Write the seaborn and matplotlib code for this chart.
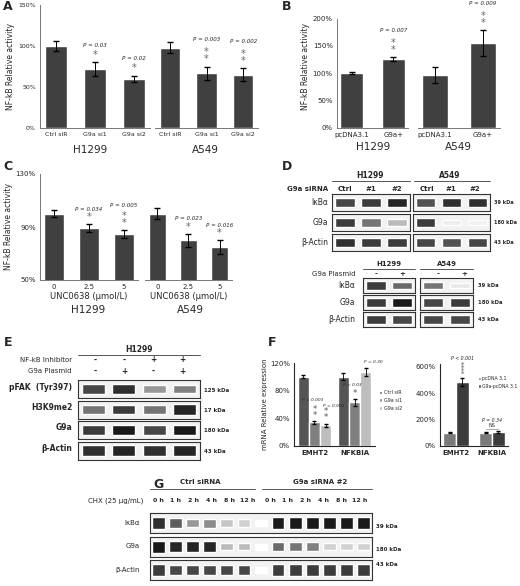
import numpy as np
import matplotlib
matplotlib.use("Agg")
import matplotlib.pyplot as plt
import seaborn as sns
from matplotlib.ticker import FuncFormatter

sns.set_style("white")
plt.rcParams['font.family'] = ['DejaVu Sans']

W, H = 520, 586
BAR = "#404040"

# -- panel data
a_cats = ["Ctrl siR", "G9a si1", "G9a si2"]
a_h1299 = [100, 72, 60]; a_h1299_err = [6, 8, 4]
a_a549 = [98, 67, 65]; a_a549_err = [7, 8, 8]
a_h1299_p = ["", "P = 0.03", "P = 0.02"]; a_h1299_star = ["", "*", "*"]
a_a549_p = ["", "P = 0.003", "P = 0.002"]; a_a549_star = ["", "**", "**"]

b_cats = ["pcDNA3.1", "G9a+"]
b_h1299 = [100, 126]; b_h1299_err = [2, 3]
b_a549 = [97, 155]; b_a549_err = [14, 24]
b_h1299_p = ["", "P = 0.007"]; b_a549_p = ["", "P = 0.009"]
b_star = ["", "**"]

c_cats = ["0", "2.5", "5"]
c_h1299 = [100, 89, 85]; c_h1299_err = [2.5, 3, 3]
c_a549 = [100, 80, 75]; c_a549_err = [4, 5, 5]
c_h1299_p = ["", "P = 0.034", "P = 0.005"]; c_h1299_star = ["", "*", "**"]
c_a549_p = ["", "P = 0.023", "P = 0.016"]; c_a549_star = ["", "*", "*"]

f_genes = ["EMHT2", "NFKBIA"]
f_groups = ["Ctrl siR", "G9a si1", "G9a si2"]
f_vals = [[100, 34, 30], [100, 63, 107]]
f_errs = [[2, 2, 2], [5, 5, 6]]
f_p = [["", "P = 0.003", "P = 0.002"], ["", "P = 0.03", "P = 0.30"]]
f_star = [["", "**", "**"], ["", "*", ""]]
f2_groups = ["pcDNA 3.1", "G9a-pcDNA 3.1"]
f2_vals = [[100, 485], [100, 105]]
f2_errs = [[5, 30], [4, 5]]

# -- blot band intensities (0..1)
d_lanes = ["Ctrl", "#1", "#2"]
d_h1299 = {"IκBα": [0.8, 0.85, 0.95], "G9a": [0.85, 0.6, 0.3], "β-Actin": [0.9, 0.85, 0.85]}
d_a549 = {"IκBα": [0.75, 0.9, 0.9], "G9a": [0.85, 0.08, 0.06], "β-Actin": [0.8, 0.75, 0.8]}
d_kda = ["39 kDa", "180 kDa", "43 kDa"]
d2_h1299 = {"IκBα": [0.85, 0.65], "G9a": [0.85, 1.0], "β-Actin": [0.85, 0.8]}
d2_a549 = {"IκBα": [0.6, 0.1], "G9a": [0.8, 0.85], "β-Actin": [0.8, 0.8]}

e_inhib = ["-", "-", "+", "+"]
e_plasmid = ["-", "+", "-", "+"]
e_rows = {"pFAK  (Tyr397)": [0.8, 0.9, 0.45, 0.55], "H3K9me2": [0.6, 0.85, 0.6, 0.95],
          "G9a": [0.85, 1.0, 0.8, 1.0], "β-Actin": [0.9, 0.95, 0.9, 0.95]}
e_kda = ["125 kDa", "17 kDa", "180 kDa", "43 kDa"]

g_times = ["0 h", "1 h", "2 h", "4 h", "8 h", "12 h"]
g_ctrl = {"IκBα": [0.9, 0.7, 0.45, 0.5, 0.25, 0.2], "G9a": [1.0, 0.95, 0.95, 0.95, 0.3, 0.3],
          "β-Actin": [0.85, 0.8, 0.8, 0.8, 0.8, 0.8]}
g_si = {"IκBα": [1.0, 1.0, 1.0, 1.0, 1.0, 1.0], "G9a": [0.65, 0.6, 0.55, 0.2, 0.2, 0.2],
        "β-Actin": [0.85, 0.85, 0.85, 0.85, 0.85, 0.85]}
g_kda = ["39 kDa", "180 kDa", "43 kDa"]

fig = plt.figure(figsize=(W / 100, H / 100), dpi=100)


def px(x0, y0, x1, y1):
    return fig.add_axes([x0 / W, 1 - y1 / H, (x1 - x0) / W, (y1 - y0) / H])


def T(x, y, s, size=6, **kw):
    kw.setdefault("ha", "center")
    kw.setdefault("va", "center")
    fig.text(x / W, 1 - y / H, s, fontsize=size, **kw)


pct = FuncFormatter(lambda v, _: f"{v:.0f}%")


def bars(ax, cats, vals, errs, ylim, ticks, pvals=None, stars=None, show_y=True, fs=4.5):
    sns.barplot(x=cats, y=vals, color=BAR, width=0.55, ax=ax, saturation=1)
    ax.errorbar(range(len(vals)), vals, yerr=errs, fmt="none", ecolor="black", elinewidth=0.7, capsize=2)
    ax.set_ylim(*ylim)
    ax.set_yticks(ticks)
    ax.yaxis.set_major_formatter(pct)
    ax.tick_params(axis="both", labelsize=fs, length=2, pad=1)
    for s in ["top", "right"]:
        ax.spines[s].set_visible(False)
    for s in ["left", "bottom"]:
        ax.spines[s].set_color("#777")
        ax.spines[s].set_linewidth(0.7)
    if not show_y:
        ax.set_yticks([])
        ax.spines["left"].set_visible(False)
    span = ylim[1] - ylim[0]
    for i, v in enumerate(vals):
        top = v + errs[i]
        if stars and stars[i]:
            ax.text(i, top + 0.02 * span, "\n".join(stars[i]), ha="center", va="bottom",
                    fontsize=7, color="#666", linespacing=0.6)
        if pvals and pvals[i]:
            n = len(stars[i]) if stars else 0
            ax.text(i, top + (0.04 + 0.08 * n) * span, pvals[i], ha="center", va="bottom",
                    fontsize=4, style="italic")


def blot(x0, y0, x1, y1, vals, thick=0.5):
    ax = px(x0, y0, x1, y1)
    n = len(vals)
    for i, v in enumerate(vals):
        c = str(1 - 0.9 * v)
        ax.bar(i, thick * (0.6 + 0.6 * v), bottom=-thick * (0.6 + 0.6 * v) / 2, width=0.75, color=c)
    ax.set_xlim(-0.5, n - 0.5)
    ax.set_ylim(-0.5, 0.5)
    ax.set_facecolor("#f2f2f2")
    ax.set_xticks([]); ax.set_yticks([])
    for s in ax.spines.values():
        s.set_linewidth(0.8); s.set_color("#333")
    return ax


# ---- A
ax = px(40, 5, 150, 128)
bars(ax, a_cats, a_h1299, a_h1299_err, (0, 150), [0, 50, 100, 150], a_h1299_p, a_h1299_star)
ax.set_ylabel("NF-kB Relative activity", fontsize=5.5, labelpad=2)
ax = px(155, 5, 258, 128)
bars(ax, a_cats, a_a549, a_a549_err, (0, 150), [0, 50, 100, 150], a_a549_p, a_a549_star, show_y=False)
T(90, 150, "H1299", 7.5); T(205, 150, "A549", 7.5)
T(8, 7, "A", 9, weight="bold")

# ---- B
ax = px(337, 5, 408, 128)
bars(ax, b_cats, b_h1299, b_h1299_err, (0, 225), [0, 50, 100, 150, 200], b_h1299_p, b_star, fs=5)
ax.spines["left"].set_bounds(0, 200)
ax.set_ylabel("NF-kB Relative activity", fontsize=5.5, labelpad=2)
ax = px(418, 5, 500, 128)
bars(ax, b_cats, b_a549, b_a549_err, (0, 225), [0, 50], b_a549_p, b_star, show_y=False, fs=5)
T(373, 147, "H1299", 7.5); T(458, 147, "A549", 7.5)
T(287, 7, "B", 9, weight="bold")

# ---- C
ax = px(40, 174, 138, 280)
bars(ax, c_cats, c_h1299, c_h1299_err, (50, 130), [50, 90, 130], c_h1299_p, c_h1299_star, fs=5)
ax.set_ylabel("NF-kB Relative activity", fontsize=5.5, labelpad=2)
ax.set_xlabel("UNC0638 (μmol/L)", fontsize=6, labelpad=1)
ax = px(145, 174, 232, 280)
bars(ax, c_cats, c_a549, c_a549_err, (50, 130), [50], c_a549_p, c_a549_star, show_y=False, fs=5)
ax.set_xlabel("UNC0638 (μmol/L)", fontsize=6, labelpad=1)
T(88, 310, "H1299", 7.5); T(190, 310, "A549", 7.5)
T(8, 166, "C", 9, weight="bold")

# ---- D
T(287, 166, "D", 9, weight="bold")
T(370, 175, "H1299", 5.5, weight="bold"); T(450, 175, "A549", 5.5, weight="bold")
fig.add_artist(plt.Line2D([332 / W, 410 / W], [1 - 181 / H] * 2, color="#555", lw=0.7))
fig.add_artist(plt.Line2D([414 / W, 490 / W], [1 - 181 / H] * 2, color="#555", lw=0.7))
T(308, 189, "G9a siRNA", 5, weight="bold")
for i, l in enumerate(d_lanes):
    T(345 + 26 * i, 189, l, 5, weight="bold")
    T(427 + 24 * i, 189, l, 5, weight="bold")
for r, name in enumerate(d_h1299):
    y0 = 194 + 20 * r
    blot(332, y0, 410, y0 + 17, d_h1299[name])
    blot(413, y0, 490, y0 + 17, d_a549[name])
    T(328, y0 + 8.5, name, 5.5, ha="right")
    T(494, y0 + 8.5, d_kda[r], 3.6, ha="left", weight="bold")
T(389, 264, "H1299", 5, weight="bold"); T(447, 264, "A549", 5, weight="bold")
fig.add_artist(plt.Line2D([363 / W, 415 / W], [1 - 269 / H] * 2, color="#555", lw=0.7))
fig.add_artist(plt.Line2D([420 / W, 473 / W], [1 - 269 / H] * 2, color="#555", lw=0.7))
T(355, 274, "G9a Plasmid", 5, ha="right")
for i, l in enumerate(["-", "+"]):
    T(376 + 26 * i, 274, l, 5, weight="bold"); T(438 + 26 * i, 274, l, 5, weight="bold")
for r, name in enumerate(d2_h1299):
    y0 = 278 + 17 * r
    blot(363, y0, 415, y0 + 15, d2_h1299[name])
    blot(420, y0, 473, y0 + 15, d2_a549[name])
    T(355, y0 + 7.5, name, 5.5, ha="right")
    T(478, y0 + 7.5, d_kda[r], 3.8, ha="left", weight="bold")

# ---- E
T(8, 343, "E", 9, weight="bold")
T(139, 350, "H1299", 5.5, weight="bold")
fig.add_artist(plt.Line2D([78 / W, 200 / W], [1 - 355 / H] * 2, color="#555", lw=0.7))
T(72, 360, "NF-kB Inhibitor", 5, ha="right")
T(72, 371, "G9a Plasmid", 5, ha="right")
for i in range(4):
    T(95 + 29 * i, 360, e_inhib[i], 5.5, weight="bold")
    T(95 + 29 * i, 371, e_plasmid[i], 5.5, weight="bold")
for r, name in enumerate(e_rows):
    y0 = 380 + 20.5 * r
    blot(78, y0, 200, y0 + 18, e_rows[name])
    T(72, y0 + 7, name, 5.5, ha="right", weight="bold")
    T(204, y0 + 10, e_kda[r], 4, ha="left", weight="bold")

# ---- F
T(272, 342, "F", 9, weight="bold")
ax = px(294, 363, 375, 446)
xs = np.arange(len(f_genes))
fc = ["#555555", "#808080", "#bdbdbd"]
wd = 0.28
p_dx = [0, -0.05, 0.2]
for j, g in enumerate(f_groups):
    v = [f_vals[k][j] for k in range(2)]
    e = [f_errs[k][j] for k in range(2)]
    ax.bar(xs + (j - 1) * wd, v, width=wd, color=fc[j], label=g, yerr=e,
           error_kw=dict(elinewidth=0.6, capsize=1.5))
    for k in range(2):
        top = v[k] + e[k]
        if f_star[k][j]:
            ax.text(xs[k] + (j - 1) * wd, top + 2, "\n".join(f_star[k][j]), ha="center", va="bottom",
                    fontsize=6, color="#555", linespacing=0.6)
        if f_p[k][j]:
            ax.text(xs[k] + (j - 1) * wd + p_dx[j], top + 5 + 9 * len(f_star[k][j]) + (j == 1) * 4,
                    f_p[k][j], ha="center", va="bottom", fontsize=3.2, style="italic")
ax.set_xticks(xs); ax.set_xticklabels(f_genes, fontsize=5, weight="bold")
ax.set_ylim(0, 120); ax.set_yticks([0, 40, 80, 120]); ax.yaxis.set_major_formatter(pct)
ax.tick_params(labelsize=5, length=2, pad=1)
ax.set_ylabel("mRNA Relative expression", fontsize=5, labelpad=1)
for s in ["top", "right"]:
    ax.spines[s].set_visible(False)
ax.legend(fontsize=3.5, frameon=False, loc="center left", bbox_to_anchor=(1.0, 0.55),
          handlelength=0.6, handletextpad=0.3, labelspacing=0.6)

ax = px(440, 364, 508, 446)
wd = 0.36
fc2 = ["#7a7a7a", "#3c3c3c"]
for j, g in enumerate(f2_groups):
    v = [f2_vals[k][j] for k in range(2)]
    e = [f2_errs[k][j] for k in range(2)]
    ax.bar(xs + (j - 0.5) * wd, v, width=wd, color=fc2[j], label=g, yerr=e,
           error_kw=dict(elinewidth=0.6, capsize=1.5))
ax.text(0.18, 520, "*\n*\n*\n*", ha="center", va="bottom", fontsize=5, color="#555", linespacing=0.45)
ax.text(0.18, 640, "P < 0.001", ha="center", va="bottom", fontsize=3.3, style="italic")
ax.plot([0.82, 1.18], [130, 130], color="#999", lw=0.6)
ax.text(1, 135, "NS", ha="center", va="bottom", fontsize=3.5)
ax.text(1, 175, "P = 0.34", ha="center", va="bottom", fontsize=3.3, style="italic")
ax.set_xticks(xs); ax.set_xticklabels(f_genes, fontsize=5, weight="bold")
ax.set_ylim(0, 620); ax.set_yticks([0, 200, 400, 600]); ax.yaxis.set_major_formatter(pct)
ax.tick_params(labelsize=5, length=2, pad=1)
for s in ["top", "right"]:
    ax.spines[s].set_visible(False)
ax.legend(fontsize=3.3, frameon=False, loc="upper left", bbox_to_anchor=(0.5, 0.9),
          handlelength=0.6, handletextpad=0.3)

# ---- G
T(159, 484, "G", 9, weight="bold")
T(200, 482, "Ctrl siRNA", 5, weight="bold"); T(320, 482, "G9a siRNA #2", 5, weight="bold")
fig.add_artist(plt.Line2D([150 / W, 255 / W], [1 - 489 / H] * 2, color="#555", lw=0.7))
fig.add_artist(plt.Line2D([262 / W, 372 / W], [1 - 489 / H] * 2, color="#555", lw=0.7))
T(143, 501, "CHX (25 μg/mL)", 5, ha="right")
for i, t in enumerate(g_times):
    T(158 + 18 * i, 501, t, 4.5, weight="bold")
    T(270 + 18 * i, 501, t, 4.5, weight="bold")
for r, name in enumerate(g_ctrl):
    y0 = 513 + 23.5 * r
    ax = blot(150, y0, 372, y0 + 20, g_ctrl[name] + [0] + g_si[name])
    T(140, y0 + 10, name, 5, ha="right")
    T(376, y0 + 13 if r < 2 else y0 + 5, g_kda[r], 4, ha="left", weight="bold")

fig.savefig("out.png", dpi=100)
